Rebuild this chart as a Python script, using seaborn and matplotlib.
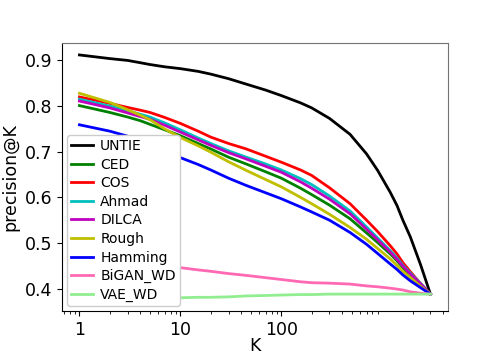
import pandas as pd
import matplotlib
matplotlib.use("Agg")
import matplotlib.pyplot as plt
import seaborn as sns

K = [1, 2, 3, 4, 5, 7, 10, 15, 20, 30, 45, 70, 100, 155, 200, 300, 480, 700, 900,
     1200, 1400, 1600, 1900, 2400, 3000]

untie = [0.912, 0.904, 0.900, 0.895, 0.891, 0.886, 0.882, 0.876, 0.870, 0.860, 0.848, 0.835, 0.823,
         0.807, 0.796, 0.773, 0.738, 0.695, 0.659, 0.611, 0.582, 0.550, 0.513, 0.452, 0.388]
ced = [0.801, 0.786, 0.776, 0.768, 0.760, 0.748, 0.735, 0.718, 0.706, 0.688, 0.673, 0.656, 0.642,
       0.620, 0.606, 0.583, 0.553, 0.522, 0.501, 0.476, 0.461, 0.446, 0.429, 0.408, 0.388]
cos = [0.820, 0.806, 0.797, 0.791, 0.786, 0.775, 0.762, 0.745, 0.732, 0.718, 0.706, 0.690, 0.677,
       0.660, 0.648, 0.621, 0.586, 0.550, 0.525, 0.494, 0.476, 0.457, 0.437, 0.411, 0.388]
ahmad = [0.815, 0.800, 0.790, 0.782, 0.776, 0.763, 0.748, 0.730, 0.718, 0.702, 0.688, 0.673, 0.660,
         0.641, 0.628, 0.603, 0.570, 0.535, 0.511, 0.483, 0.467, 0.451, 0.434, 0.411, 0.388]
dilca = [0.811, 0.796, 0.785, 0.777, 0.771, 0.758, 0.743, 0.726, 0.714, 0.698, 0.684, 0.668, 0.655,
         0.634, 0.620, 0.596, 0.564, 0.530, 0.507, 0.480, 0.464, 0.449, 0.432, 0.410, 0.388]
rough = [0.828, 0.808, 0.792, 0.780, 0.770, 0.750, 0.731, 0.713, 0.699, 0.678, 0.659, 0.639, 0.623,
         0.600, 0.586, 0.563, 0.534, 0.508, 0.488, 0.465, 0.451, 0.438, 0.424, 0.405, 0.388]
hamming = [0.759, 0.745, 0.734, 0.724, 0.716, 0.702, 0.687, 0.672, 0.660, 0.642, 0.626, 0.610, 0.597,
           0.579, 0.568, 0.550, 0.523, 0.497, 0.477, 0.454, 0.442, 0.430, 0.417, 0.402, 0.388]
bigan = [0.490, 0.478, 0.470, 0.464, 0.459, 0.452, 0.446, 0.441, 0.438, 0.433, 0.429, 0.424, 0.420,
         0.415, 0.413, 0.412, 0.410, 0.406, 0.404, 0.401, 0.399, 0.397, 0.393, 0.390, 0.388]
vae = [0.378, 0.378, 0.379, 0.379, 0.379, 0.380, 0.380, 0.381, 0.381, 0.382, 0.384, 0.385, 0.386,
       0.387, 0.387, 0.388, 0.388, 0.388, 0.388, 0.388, 0.388, 0.388, 0.388, 0.388, 0.388]

names = ["UNTIE", "CED", "COS", "Ahmad", "DILCA", "Rough", "Hamming", "BiGAN_WD", "VAE_WD"]
series = [untie, ced, cos, ahmad, dilca, rough, hamming, bigan, vae]
colors = ["k", "g", "r", "c", "m", "y", "b", "#ff69b4", "#90ee90"]

rows = []
for name, vals in zip(names, series):
    for k, v in zip(K, vals):
        rows.append({"K": k, "precision@K": v, "method": name})
df = pd.DataFrame(rows)

fig = plt.figure(figsize=(4.98, 3.56), dpi=100)
ax = fig.add_axes([0.1245, 0.1264, 0.7751, 0.7526])

sns.lineplot(data=df, x="K", y="precision@K", hue="method", hue_order=names,
             palette=dict(zip(names, colors)), linewidth=2, ax=ax)
ax.set_xscale("log")
ax.set_xlim(0.672, 4480)
ax.set_ylim(0.351, 0.938)
ax.set_xticks([1, 10, 100])
ax.set_xticklabels(["1", "10", "100"])
ax.set_yticks([0.4, 0.5, 0.6, 0.7, 0.8, 0.9])
ax.tick_params(labelsize=12.5)
ax.set_xlabel("K", fontsize=12.5, labelpad=-1.5)
ax.set_ylabel("precision@K", fontsize=12.5)
for side in ["top", "right"]:
    ax.spines[side].set_color("0.45")

ax.legend(loc="lower left", fontsize=10, borderaxespad=0.35, handlelength=1.6,
          handletextpad=0.5, labelspacing=0.33, borderpad=0.3, framealpha=1)

fig.savefig("out.png", dpi=100)
